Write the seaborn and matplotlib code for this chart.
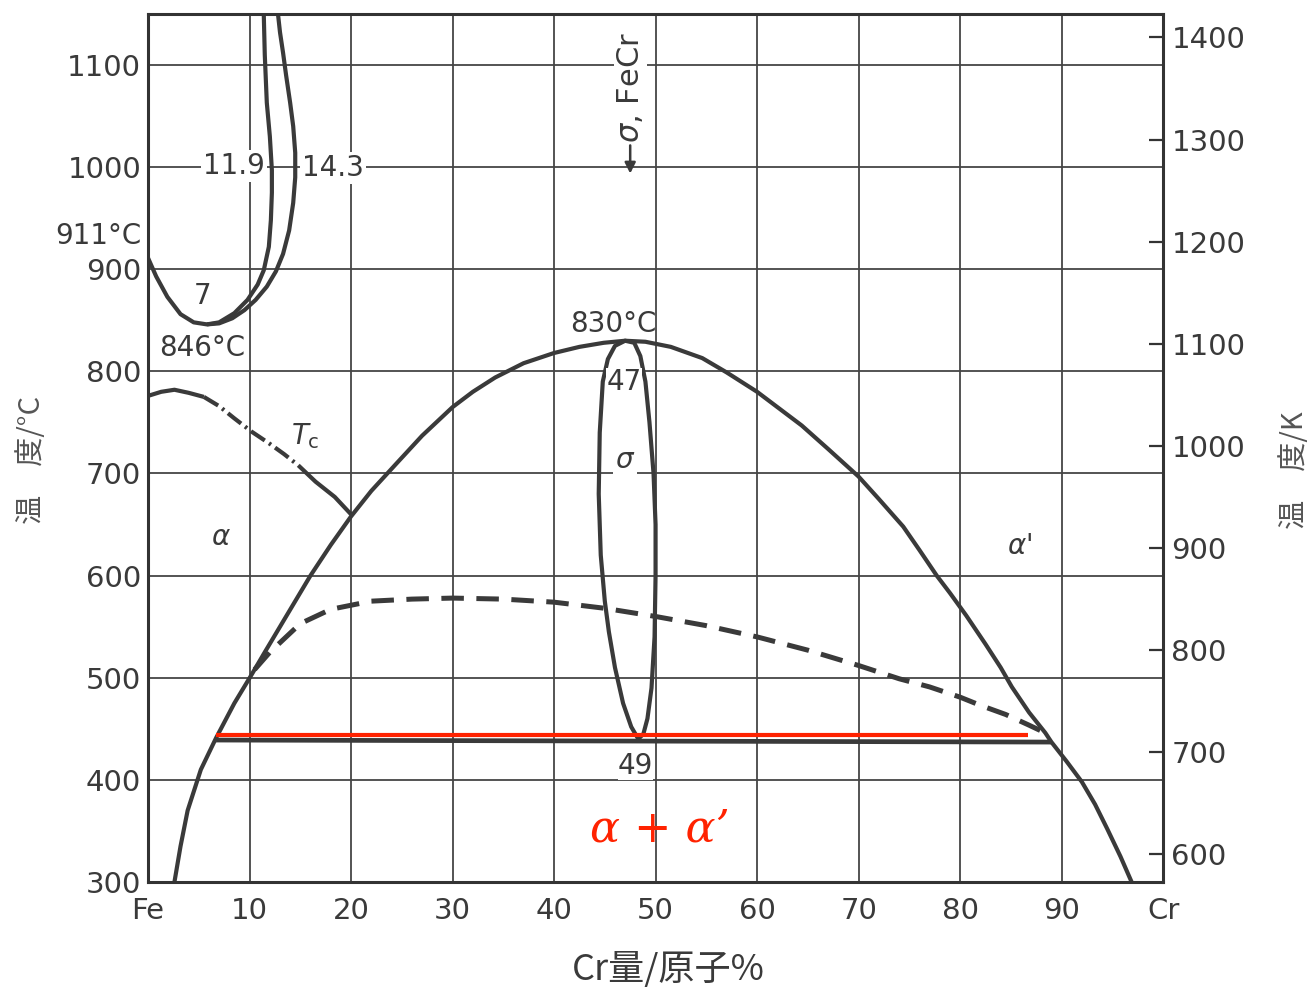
import matplotlib
matplotlib.use('Agg')
import matplotlib.pyplot as plt
import seaborn as sns

# Fe-Cr 二元系状態図（図から目視で読み取った値）
# γループ 外側 (Cr at.%, °C)
gamma_out_x = [0, 0.8, 1.9, 3.2, 4.5, 5.8, 7.0, 8.3, 9.5, 10.6, 11.7, 12.6, 13.3, 13.9, 14.3,
               14.5, 14.5, 14.3, 14.0, 13.6, 13.3, 13.0, 12.8]
gamma_out_t = [911, 893, 873, 856, 848, 846, 847, 852, 860, 870, 883, 898, 915, 938, 965,
               990, 1014, 1040, 1063, 1090, 1112, 1132, 1150]
# γループ 内側
gamma_in_x = [5.8, 7.0, 8.5, 9.8, 10.8, 11.4, 11.9, 12.1, 12.2, 12.2, 12.0, 11.7, 11.5, 11.4]
gamma_in_t = [846, 848, 857, 870, 885, 899, 922, 948, 975, 997, 1030, 1063, 1110, 1150]

# 磁気変態線 Tc（実線 / 一点鎖線 / 実線）
tc1_x = [0, 1.3, 2.6, 4.0, 5.5]
tc1_t = [776, 780, 782, 779, 775]
tc2_x = [5.5, 7.0, 8.5, 10.2, 12.0, 13.4, 14.8]
tc2_t = [775, 766, 754, 741, 729, 719, 708]
tc3_x = [14.8, 16.5, 18.4, 20.0]
tc3_t = [708, 692, 677, 660]

# α / (α+σ) 境界（大きなドーム）
dome_x = [2.6, 3.2, 3.9, 5.2, 6.7, 8.5, 10.2, 11.5, 13.0, 14.5, 16.0, 18.0, 20.0, 22.0, 24.4,
          27.0, 30.0, 32.0, 34.2, 37.0, 40.0, 42.5, 44.9, 47.0, 49.0, 51.5, 54.6, 57.0, 60.0,
          62.0, 64.4, 67.0, 70.0, 72.0, 74.4, 76.0, 77.7, 79.0, 80.6, 82.5, 84.0, 85.1, 86.8,
          88.4, 89.0, 90.5, 92.0, 93.3, 94.5, 95.8, 96.9]
dome_t = [300, 335, 370, 410, 441, 475, 503, 525, 550, 575, 600, 630, 658, 683, 709,
          737, 765, 780, 794, 808, 818, 824, 828, 830, 829, 824, 813, 799, 780,
          765, 747, 724, 697, 675, 648, 625, 600, 583, 561, 533, 510, 491, 466,
          446, 437, 418, 398, 376, 352, 325, 300]

# σ相領域
sigma_x = [48.3, 47.6, 46.8, 46.0, 45.4, 45.0, 44.6, 44.4, 44.5, 44.8, 45.3, 46.0, 47.0, 47.9,
           48.5, 49.0, 49.4, 49.8, 50.0, 50.0, 49.9, 49.6, 49.2, 48.8, 48.3]
sigma_t = [440, 452, 475, 510, 545, 575, 620, 680, 740, 790, 812, 825, 830, 828,
           815, 790, 750, 700, 650, 600, 540, 490, 460, 445, 440]

# 二相分離（破線）
spin_x = [10.5, 12.0, 15.0, 18.0, 22.0, 26.0, 30.0, 35.0, 40.0, 45.0, 50.0, 55.0, 60.0, 65.0,
          70.0, 74.0, 77.0, 80.0, 82.0, 84.5, 86.7, 88.4]
spin_t = [508, 525, 553, 567, 575, 577, 578, 577, 574, 568, 560, 551, 540, 527,
          512, 499, 491, 481, 473, 464, 454, 446]

# 共析線（黒）と強調線（赤）
eut_x = [6.7, 89.0]
eut_t = [439, 437]
red_x = [6.7, 86.7]
red_t = [444, 444]

x_ticks = [0, 10, 20, 30, 40, 50, 60, 70, 80, 90, 100]
x_labels = ['Fe', '10', '20', '30', '40', '50', '60', '70', '80', '90', 'Cr']
c_ticks = [300, 400, 500, 600, 700, 800, 900, 1000, 1100]
k_ticks = [600, 700, 800, 900, 1000, 1100, 1200, 1300, 1400]

sns.set_theme(style='white')
plt.rcParams['font.family'] = ['DejaVu Sans', 'Noto Sans CJK JP']
cjk = ['Noto Sans CJK JP', 'DejaVu Sans']

ink = '#3a3a3a'
lw = 3.0

fig = plt.figure(figsize=(13.16, 9.89), dpi=100)
ax = fig.add_axes([0.1125, 0.1082, 0.7713, 0.8777])

ax.set_xlim(0, 100)
ax.set_ylim(300, 1150)
ax.set_xticks(x_ticks)
ax.set_xticklabels(x_labels)
ax.set_yticks(c_ticks)
ax.grid(True, color='#454545', linewidth=1.3)
ax.set_axisbelow(True)
ax.tick_params(axis='both', length=0, labelsize=21, labelcolor=ink)
ax.tick_params(axis='x', pad=11)
ax.tick_params(axis='y', pad=5)
for s in ax.spines.values():
    s.set_color('#333333')
    s.set_linewidth(2.2)
ax.set_xlabel('')
ax.set_ylabel('')

def curve(x, t, **kw):
    style = dict(color=ink, linewidth=lw, estimator=None, sort=False, ax=ax)
    style.update(kw)
    return sns.lineplot(x=x, y=t, **style)

curve(gamma_out_x, gamma_out_t)
curve(gamma_in_x, gamma_in_t)
curve(tc1_x, tc1_t)
curve(tc2_x, tc2_t, linestyle=(0, (4, 1.2, 0.6, 1.2)))
curve(tc3_x, tc3_t)
curve(dome_x, dome_t)
curve(sigma_x, sigma_t)
curve(spin_x, spin_t, linestyle=(0, (4.5, 2.5)), linewidth=3.6)
curve(eut_x, eut_t, linewidth=3.4)
curve(red_x, red_t, color='#ff2200', linewidth=3.0)
for l in ax.lines:
    l.set_solid_capstyle('butt')
    l.set_dash_capstyle('butt')
    l.set_solid_joinstyle('round')
    l.set_dash_joinstyle('round')

# 右軸 (K)
ax2 = ax.twinx()
ax2.set_ylim(300 + 273, 1150 + 273)
ax2.set_yticks(k_ticks)
ax2.grid(False)
ax2.tick_params(axis='y', direction='in', length=10, width=1.6, color='#333333',
                labelsize=21, labelcolor=ink, pad=6)
for s in ax2.spines.values():
    s.set_visible(False)

# 図中の注記
wb = dict(facecolor='white', edgecolor='none', pad=1.5)
tk = dict(fontsize=20, color=ink, ha='center', va='center')
ax.text(8.5, 1001, '11.9', bbox=wb, **tk)
ax.text(18.2, 999, '14.3', bbox=wb, **tk)
ax.text(-0.6, 933, '911°C', fontsize=20, color=ink, ha='right', va='center', clip_on=False)
ax.text(5.4, 874, '7', **tk)
ax.text(5.3, 823, '846°C', bbox=wb, **tk)
ax.text(45.8, 846, '830°C', **tk)
ax.text(46.9, 790, '47', bbox=dict(facecolor='white', edgecolor='none', pad=0), **tk)
ax.text(47.0, 713, r'$\sigma$', bbox=wb, **tk)
ax.text(15.5, 737, r'$T_\mathrm{c}$', bbox=wb, **tk)
ax.text(48.0, 414, '49', bbox=dict(facecolor='white', edgecolor='none', pad=0), **tk)
ax.text(7.2, 638, r'$\alpha$', **tk)
ax.text(85.9, 629, r"$\alpha$'", **tk)
ax.text(50.4, 352, 'α + α’', fontsize=32, color='#ff2200', ha='center', va='center',
        family='DejaVu Serif', style='italic')

# σ, FeCr と矢印
ax.annotate('', xy=(47.5, 991), xytext=(47.5, 1024),
            arrowprops=dict(arrowstyle='-|>', color=ink, lw=1.8, mutation_scale=16))
ax.text(47.5, 1024, r'$\sigma$, FeCr', rotation=90, fontsize=22, color=ink,
        ha='center', va='bottom', bbox=dict(facecolor='white', edgecolor='none', pad=1))

# 軸ラベル
fig.text(0.508, 0.019, 'Cr量/原子%', fontsize=26, color=ink, ha='center', va='center', family=cjk)
fig.text(0.024, 0.535, '温　度/°C', fontsize=21, color='#555555', rotation=90,
         ha='center', va='center', family=cjk)
fig.text(0.984, 0.525, '温　度/K', fontsize=21, color='#555555', rotation=90,
         ha='center', va='center', family=cjk)

plt.savefig('out.png', dpi=100)
plt.close()
